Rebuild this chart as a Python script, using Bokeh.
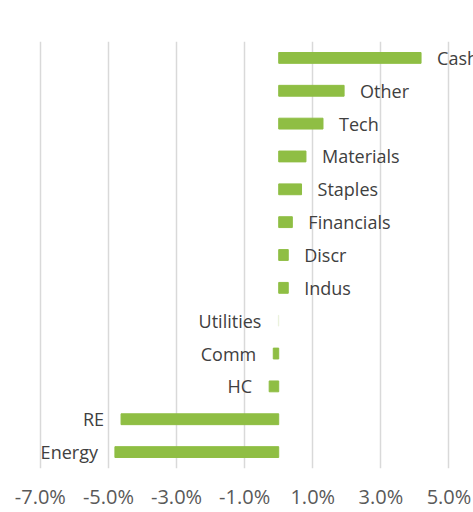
from bokeh.plotting import figure
from bokeh.models import Range1d, FixedTicker, ColumnDataSource
from bokeh.core.properties import value
from bokeh.embed import file_html
from bokeh.resources import INLINE

# Data (top to bottom as in chart)
categories = ["Cash", "Other", "Tech", "Materials", "Staples", "Financials", "Discr",
              "Indus", "Utilities", "Comm", "HC", "RE", "Energy"]
values = [4.18, 1.92, 1.30, 0.80, 0.67, 0.40, 0.28, 0.28, -0.01, -0.16, -0.28, -4.63, -4.81]
tick_values = [-7, -5, -3, -1, 1, 3, 5]
tick_labels = ["-7.0%", "-5.0%", "-3.0%", "-1.0%", "1.0%", "3.0%", "5.0%"]

factors = categories[::-1]

src = ColumnDataSource(dict(
    cat=categories,
    val=values,
    zero=[0] * len(values),
    color=["#EAF1DD" if c == "Utilities" else "#8FBE44" for c in categories],
))
pos = ColumnDataSource(dict(
    cat=[c for c, v in zip(categories, values) if v > 0],
    val=[v for v in values if v > 0],
))
neg = ColumnDataSource(dict(
    cat=[c for c, v in zip(categories, values) if v <= 0],
    val=[v for v in values if v <= 0],
))

p = figure(width=473, height=512, y_range=factors, x_range=Range1d(-8.17, 5.72),
           output_backend="svg", toolbar_location=None,
           min_border_left=0, min_border_right=0, min_border_top=41, min_border_bottom=44)
p.y_range.range_padding = 0
p.outline_line_color = None
p.background_fill_color = "white"
p.border_fill_color = "white"

p.hbar(y="cat", left="zero", right="val", height=0.33, source=src,
       fill_color="color", line_color="color")

font = value("Open Sans")
p.text(x="val", y="cat", text="cat", source=pos, x_offset=16, text_align="left",
       text_baseline="middle", text_font=font, text_font_size="18px", text_color="#404040")
p.text(x="val", y="cat", text="cat", source=neg, x_offset=-17, text_align="right",
       text_baseline="middle", text_font=font, text_font_size="18px", text_color="#404040")

p.yaxis.visible = False
p.ygrid.grid_line_color = None
p.xaxis.ticker = FixedTicker(ticks=tick_values)
p.xaxis.major_label_overrides = {t: l for t, l in zip(tick_values, tick_labels)}
p.xaxis.axis_line_color = None
p.xaxis.major_tick_line_color = None
p.xaxis.minor_tick_line_color = None
p.xaxis.major_tick_out = 0
p.xaxis.major_tick_in = 0
p.xaxis.major_label_standoff = 14
p.xaxis.major_label_text_font = "Open Sans"
p.xaxis.major_label_text_font_size = "20px"
p.xaxis.major_label_text_color = "#595959"
p.xgrid.ticker = FixedTicker(ticks=tick_values)
p.xgrid.grid_line_color = "#D9D9D9"
p.xgrid.grid_line_width = 1.5

open("out.html", "w").write(file_html(p, INLINE))
